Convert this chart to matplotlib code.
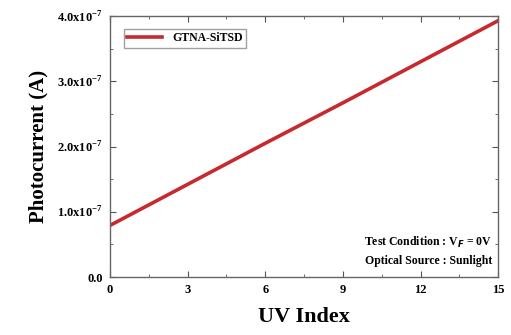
import matplotlib
matplotlib.use("Agg")
import matplotlib.pyplot as plt
from matplotlib.ticker import MultipleLocator, FixedLocator

plt.rcParams['font.family'] = ['Liberation Serif', 'DejaVu Serif']
plt.rcParams['font.weight'] = 'bold'
plt.rcParams['mathtext.fontset'] = 'custom'
plt.rcParams['mathtext.rm'] = 'Liberation Serif:bold'
plt.rcParams['mathtext.bf'] = 'Liberation Serif:bold'

# данные
uv_index = [0, 3, 6, 9, 12, 15]
photocurrent = [0.79e-7, 1.42e-7, 2.05e-7, 2.67e-7, 3.30e-7, 3.93e-7]
y_ticks = [0, 1e-7, 2e-7, 3e-7, 4e-7]
y_tick_labels = ['0.0', r'1.0x10$^{-7}$', r'2.0x10$^{-7}$', r'3.0x10$^{-7}$', r'4.0x10$^{-7}$']
x_ticks = [0, 3, 6, 9, 12, 15]

fig = plt.figure(figsize=(5.11, 3.35), dpi=100)
ax = fig.add_axes([0.215, 0.173, 0.76, 0.779])

ax.plot(uv_index, photocurrent, color='#c62a2f', linewidth=2.6, label='GTNA-SiTSD')

ax.set_xlim(0, 15)
ax.set_ylim(0, 4e-7)
ax.xaxis.set_major_locator(FixedLocator(x_ticks))
ax.xaxis.set_minor_locator(MultipleLocator(1.5))
ax.yaxis.set_major_locator(FixedLocator(y_ticks))
ax.yaxis.set_minor_locator(MultipleLocator(0.5e-7))
ax.set_yticklabels(y_tick_labels)
ax.tick_params(which='both', direction='in', top=True, right=True, labelsize=9, color='#555555')
ax.tick_params(which='major', length=4, pad=5)
ax.tick_params(which='minor', length=2)
for s in ax.spines.values():
    s.set_color('#666666')
    s.set_linewidth(1.0)

ax.set_xlabel('UV Index', fontsize=16, fontweight='bold', labelpad=8)
ax.set_ylabel('Photocurrent (A)', fontsize=15, fontweight='bold', labelpad=6)

leg = ax.legend(loc='upper left', fontsize=8.5, frameon=True, fancybox=False,
                edgecolor='#888888', handlelength=3.0, borderpad=0.3,
                bbox_to_anchor=(0.02, 0.975))
ax.text(0.985, 0.04, 'Test Condition : V$_F$ = 0V\nOptical Source : Sunlight',
        transform=ax.transAxes, ha='right', va='bottom', fontsize=8.5,
        fontweight='bold', linespacing=1.5)

plt.savefig('out.png', dpi=100)
plt.close()
